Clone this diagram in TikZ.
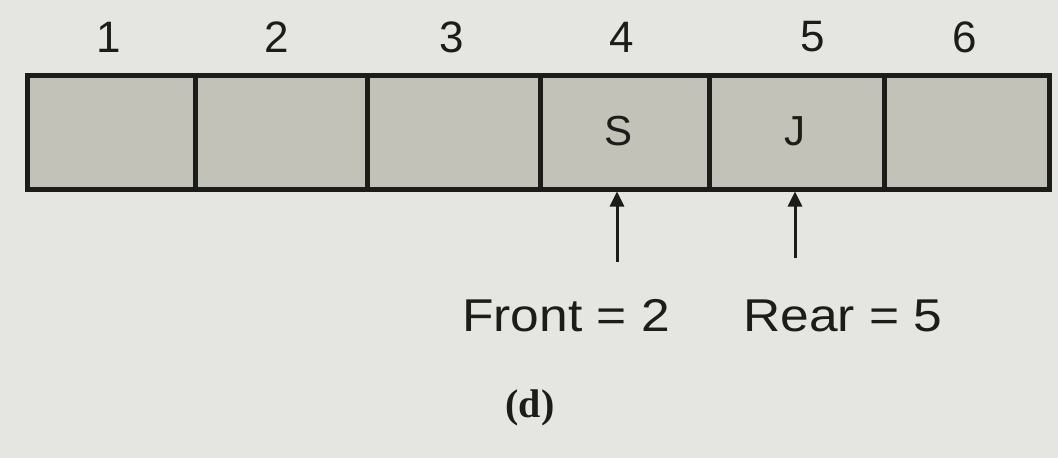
\documentclass[tikz,border=0pt]{standalone}
\usepackage{fontspec}
\setmainfont{Liberation Sans}
\newfontfamily\serifbold{Liberation Serif}
\usetikzlibrary{arrows.meta}
\definecolor{bg}{RGB}{229,229,226}
\definecolor{cellfill}{RGB}{194,194,184}
\definecolor{ink}{RGB}{28,28,24}
\tikzset{
  cellbox/.style={draw=ink, line width=4.5pt, fill=cellfill, minimum height=114pt, inner sep=0pt, anchor=north west},
  idx/.style={text=ink, font=\fontsize{44}{48}\selectfont},
  val/.style={text=ink, font=\fontsize{42}{46}\selectfont},
  lbl/.style={text=ink, font=\fontsize{46}{50}\selectfont},
  ptr/.style={draw=ink, line width=3pt, -{Triangle[length=15pt,width=14pt]}}
}
\begin{document}
\begin{tikzpicture}[x=1pt,y=-1pt]
\fill[bg] (0,0) rectangle (1058,458);
\useasboundingbox (0,0) rectangle (1058,458);
% cells
\node[cellbox, minimum width=168pt] (c1) at (25,73) {};
\node[cellbox, minimum width=172pt] (c2) at (193,73) {};
\node[cellbox, minimum width=173pt] (c3) at (365,73) {};
\node[cellbox, minimum width=169pt] (c4) at (538,73) {};
\node[cellbox, minimum width=175pt] (c5) at (707,73) {};
\node[cellbox, minimum width=165pt] (c6) at (882,73) {};
% indices
\node[idx] (n1) at (109,37) {1};
\node[idx] (n2) at (277,37) {2};
\node[idx] (n3) at (452,37) {3};
\node[idx] (n4) at (622,37) {4};
\node[idx] (n5) at (813,37) {5};
\node[idx] (n6) at (965,37) {6};
% values
\node[val] (vS) at (619,131) {S};
\node[val] (vJ) at (795,131) {J};
% pointer labels
\node[lbl] (front) at (566,316) {\scalebox{1.12}[1]{Front = 2}};
\node[lbl] (rear) at (843,316) {\scalebox{1.12}[1]{Rear = 5}};
\coordinate (ft) at (617,262);
\coordinate (rt) at (795,258);
\draw[ptr] (ft) -- (ft |- c4.south);
\draw[ptr] (rt) -- (rt |- c5.south);
% caption
\node[text=ink, font=\serifbold\bfseries\fontsize{40}{44}\selectfont] (cap) at (530,408) {(d)};
\end{tikzpicture}
\end{document}
